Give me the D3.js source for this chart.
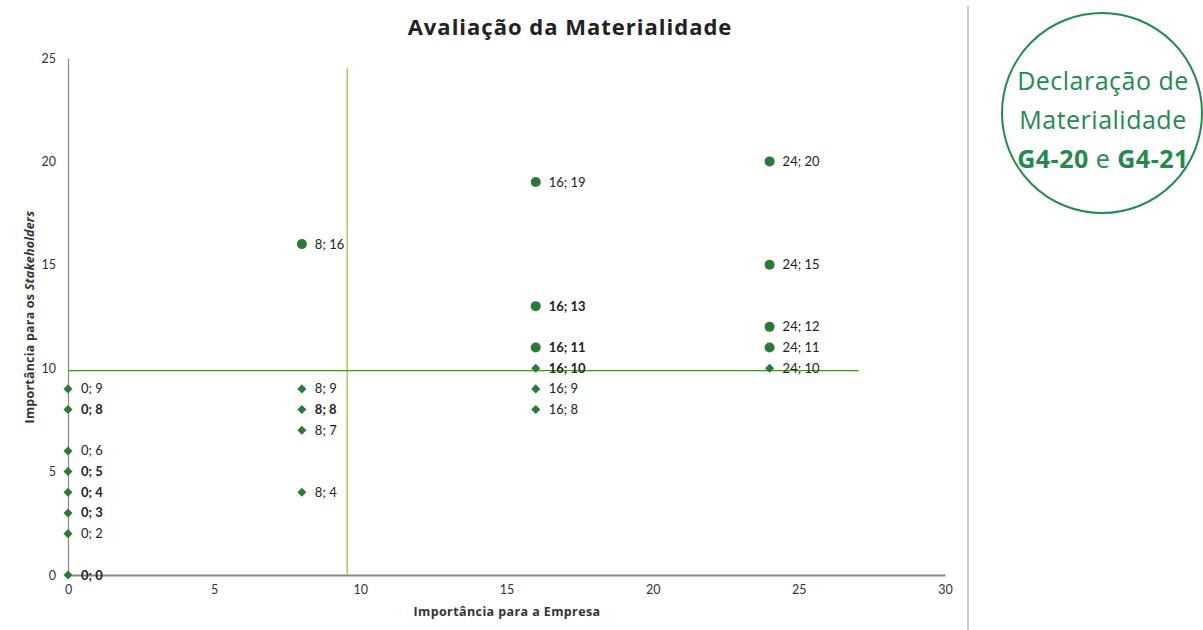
<!DOCTYPE html>
<html>
<head>
<meta charset="utf-8">
<script src="https://cdn.jsdelivr.net/npm/d3@7"></script>
<style>
  body { margin: 0; background: #fff; }
  svg { font-family: "Lato", "Open Sans", sans-serif; }
</style>
</head>
<body>
<svg width="1203" height="630"></svg>
<script>
const svg = d3.select("svg")

// material topics (circles) and other topics (diamonds), [empresa, stakeholders]
const materialX = [8, 16, 16, 16, 24, 24, 24, 24]
const materialY = [16, 19, 13, 11, 20, 15, 12, 11]
const otherX = [0, 0, 0, 0, 0, 0, 0, 0, 8, 8, 8, 8, 16, 16, 16, 24]
const otherY = [9, 8, 6, 5, 4, 3, 2, 0, 9, 8, 7, 4, 10, 9, 8, 10]
// labels printed in bold (several topics on the same spot)
const boldLabels = ["0; 8", "0; 5", "0; 4", "0; 3", "0; 0", "8; 8", "16; 13", "16; 11", "16; 10"]

const xTicks = [0, 5, 10, 15, 20, 25, 30]
const yTicks = [0, 5, 10, 15, 20, 25]
// quadrant dividers
const cutX = 9.55
const cutY = 9.88

const xScale = d3.scaleLinear().domain([0, 30]).range([68, 945])
const yScale = d3.scaleLinear().domain([0, 25]).range([575, 58])

const green = "#2a7a35"
const wide = "Open Sans"

// title
svg.append("text")
    .attr("x", 570).attr("y", 35)
    .attr("text-anchor", "middle")
    .attr("font-family", wide)
    .attr("font-size", 22).attr("font-weight", "bold")
    .attr("letter-spacing", 1)
    .attr("fill", "#222")
    .text("Avaliação da Materialidade")

// axes
const xAxis = svg.append("g")
    .attr("transform", `translate(0, ${yScale(0)})`)
    .call(d3.axisBottom(xScale).tickValues(xTicks).tickSize(0).tickPadding(10))
xAxis.select(".domain").attr("stroke", "#888").attr("stroke-width", 2)
xAxis.selectAll("text").attr("font-size", 12.5).attr("fill", "#333").attr("font-family", "Lato")

const yAxis = svg.append("g")
    .attr("transform", `translate(${xScale(0)}, 0)`)
    .call(d3.axisLeft(yScale).tickValues(yTicks).tickSize(0).tickPadding(12))
yAxis.select(".domain").attr("stroke", "#888").attr("stroke-width", 1.2)
yAxis.selectAll("text").attr("font-size", 12.5).attr("fill", "#333").attr("font-family", "Lato")

// axis titles
svg.append("text")
    .attr("x", 507).attr("y", 616)
    .attr("text-anchor", "middle")
    .attr("font-family", wide)
    .attr("font-size", 12.5).attr("font-weight", "bold").attr("fill", "#333")
    .attr("letter-spacing", 0.4)
    .text("Importância para a Empresa")

const yt = svg.append("text")
    .attr("transform", "translate(34, 317) rotate(-90)")
    .attr("text-anchor", "middle")
    .attr("font-family", wide)
    .attr("font-size", 12.5).attr("font-weight", "bold").attr("fill", "#333")
    .attr("letter-spacing", 0.2)
yt.append("tspan").text("Importância para os ")
yt.append("tspan").attr("font-style", "italic").text("Stakeholders")

// quadrant lines
svg.append("line")
    .attr("x1", xScale(cutX)).attr("x2", xScale(cutX))
    .attr("y1", yScale(24.5)).attr("y2", yScale(0))
    .attr("stroke", "#9bb832").attr("stroke-width", 1.2)
svg.append("line")
    .attr("x1", xScale(0)).attr("x2", xScale(27.05))
    .attr("y1", yScale(cutY)).attr("y2", yScale(cutY))
    .attr("stroke", "#4f8a2e").attr("stroke-width", 1.2)

// points
const material = materialX.map((x, i) => ({x, y: materialY[i]}))
const other = otherX.map((x, i) => ({x, y: otherY[i]}))

svg.append("g").selectAll("circle")
    .data(material)
    .join("circle")
    .attr("cx", d => xScale(d.x))
    .attr("cy", d => yScale(d.y))
    .attr("r", 5)
    .attr("fill", green)

svg.append("g").selectAll("path")
    .data(other)
    .join("path")
    .attr("transform", d => `translate(${xScale(d.x)}, ${yScale(d.y)})`)
    .attr("d", d3.symbol(d3.symbolDiamond2, 52))
    .attr("fill", green)

const label = d => `${d.x}; ${d.y}`
svg.append("g").selectAll("text")
    .data(material.concat(other))
    .join("text")
    .attr("x", d => xScale(d.x) + 13)
    .attr("y", d => yScale(d.y) + 4.5)
    .attr("font-size", 13)
    .attr("fill", "#222")
    .attr("font-weight", d => boldLabels.includes(label(d)) ? "bold" : "normal")
    .text(label)

// right panel
svg.append("line")
    .attr("x1", 968).attr("x2", 968).attr("y1", 6).attr("y2", 630)
    .attr("stroke", "#999").attr("stroke-width", 1)

svg.append("circle")
    .attr("cx", 1102).attr("cy", 113).attr("r", 100)
    .attr("fill", "none").attr("stroke", "#238a4f").attr("stroke-width", 2)

const badge = svg.append("g")
    .attr("fill", "#238a4f").attr("font-family", wide)
    .attr("font-size", 25).attr("letter-spacing", 0.5)
    .attr("text-anchor", "middle")
badge.append("text").attr("x", 1103).attr("y", 90).text("Declaração de")
badge.append("text").attr("x", 1103).attr("y", 129).text("Materialidade")
const g4 = badge.append("text").attr("x", 1103).attr("y", 168)
g4.append("tspan").attr("font-weight", "bold").text("G4-20")
g4.append("tspan").text(" e ")
g4.append("tspan").attr("font-weight", "bold").text("G4-21")
</script>
</body>
</html>
